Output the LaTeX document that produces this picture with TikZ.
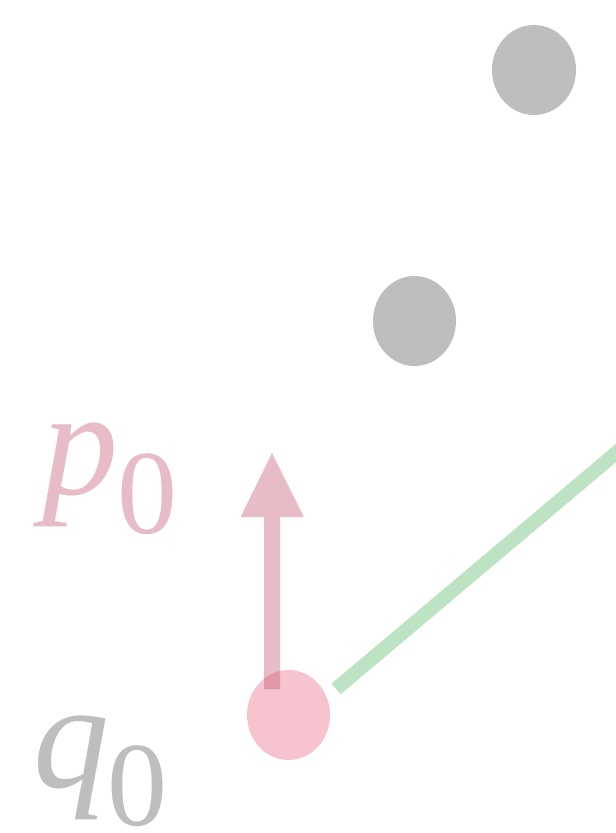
\documentclass[tikz,border=0pt]{standalone}
\usepackage{fontspec}
\newfontfamily\labfont{Liberation Serif}
\definecolor{ptgray}{RGB}{190,190,190}
\definecolor{ptpink}{RGB}{235,107,135}
\definecolor{arrowred}{RGB}{198,88,113}
\definecolor{linegreen}{RGB}{189,227,195}
\definecolor{textpink}{RGB}{232,188,198}
\newcommand{\biglab}[3]{{\labfont\fontsize{152}{152}\selectfont\itshape #1\kern #2\raisebox{-#3}{\upshape\fontsize{120}{120}\selectfont 0}}}
\tikzset{
  graydot/.style={fill=ptgray,draw=none},
  pinkdot/.style={fill=ptpink,fill opacity=0.4,draw=none},
  bigmath/.style={inner sep=0pt,outer sep=0pt,anchor=base west},
}
\begin{document}
\begin{tikzpicture}[x=1pt,y=-1pt]
\useasboundingbox (0,0) rectangle (616,833);
\clip (0,0) rectangle (616,833);
\fill[white] (0,0) rectangle (616,833);
% gray points
\fill[graydot] (534,70) ellipse [x radius=42, y radius=45];
\fill[graydot] (414.5,321) ellipse [x radius=41.5, y radius=45];
% green line
\coordinate (gA) at (336,689);
\coordinate (gB) at (720,365.3);
\draw[linegreen,line width=14pt] (gA) -- (gB);
% pink point
\fill[pinkdot] (288.5,715) ellipse [x radius=41.5, y radius=45];
% arrow
\coordinate (aS) at (272,689);
\fill[arrowred,fill opacity=0.4] (264,689) -- (264,517) -- (240.7,517) -- (272,453) -- (304,517) -- (280,517) -- (280,689) -- cycle;
% labels
\node[bigmath,text=textpink] (p0) at (42,494) {\biglab{p}{-1pt}{39pt}};
\node[bigmath,text=ptgray] (q0) at (33,787) {\biglab{q}{-2pt}{38pt}};
\end{tikzpicture}
\end{document}
